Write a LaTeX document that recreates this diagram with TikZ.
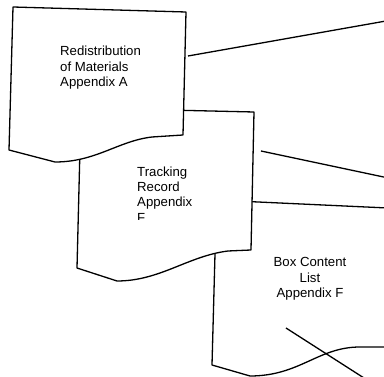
\documentclass[tikz,border=0pt]{standalone}
\usepackage{fontspec}
\setmainfont{Liberation Sans}
\begin{document}
\begin{tikzpicture}[x=1pt,y=-1pt,
  docshape/.style={draw=black,fill=white,line width=1.3pt,line join=round},
  link/.style={draw=black,line width=1.3pt},
  label/.style={inner sep=0pt,font=\fontsize{13.2}{15.4}\selectfont}]
\useasboundingbox (0,0) rectangle (384,377);
\begin{scope}
\clip (0,0) rectangle (384,377);
% shape 3: Box Content List
\draw[docshape] (215,200) -- (215,254) -- (212,365) -- (250,376)
  .. controls (300,376) and (318,347) .. (360,347) -- (392,347) -- (392,208.2) -- cycle;
\node[label,align=center,anchor=north] (box) at (310,257.5) {Box Content\\List\\Appendix F};
\coordinate (d1) at (286,328);
\coordinate (d2) at (364,378);
\draw[link] (d1) -- (d2);
% shape 2: Tracking Record
\draw[docshape] (81,108) -- (254,112) -- (251,250) -- (228,251)
  .. controls (188,256) and (160,281) .. (117,281) -- (77,268) -- cycle;
\begin{scope}
\clip (0,0) rectangle (384,220);
\node[label,align=left,anchor=north west] (track) at (137,166.3) {Tracking\\Record\\Appendix\\F};
\end{scope}
% shape 1: Redistribution
\draw[docshape] (13,7) -- (186,12) -- (183,135) -- (152,137)
  .. controls (118,141) and (96,162) .. (55,162) -- (9,150) -- cycle;
\node[label,align=left,anchor=north west] (redis) at (60,46) {Redistribution\\of Materials\\Appendix A};
% connectors
\coordinate (a1) at (188,56);
\coordinate (a2) at (386,21);
\coordinate (b1) at (261,151);
\coordinate (b2) at (386,177.5);
\draw[link] (a1) -- (a2);
\draw[link] (b1) -- (b2);
\end{scope}
\end{tikzpicture}
\end{document}
